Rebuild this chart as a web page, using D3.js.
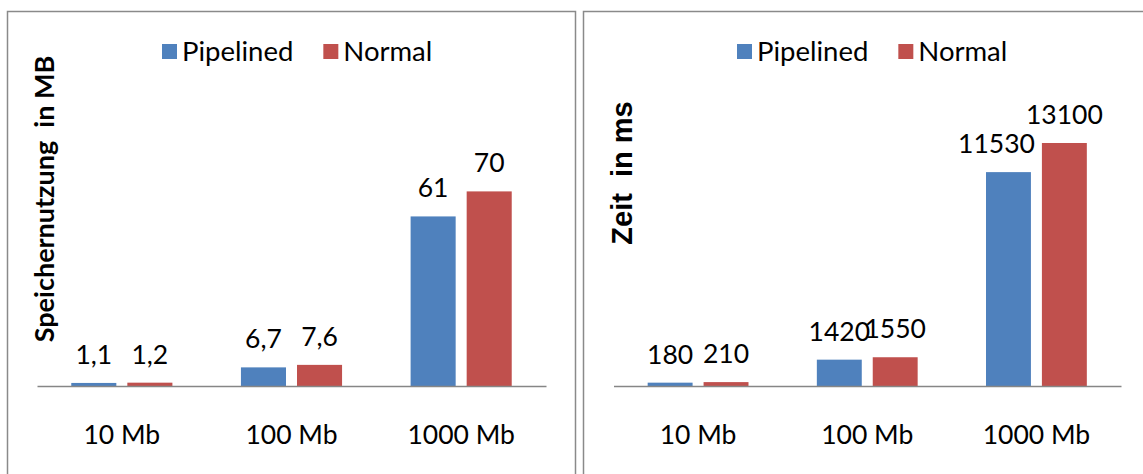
<!DOCTYPE html>
<html><head><meta charset="utf-8">
<script src="https://cdn.jsdelivr.net/npm/d3@7"></script>
<style>
html,body{margin:0;padding:0;background:#fff;}
svg{display:block;}
text{font-family:Lato,"Open Sans",sans-serif;fill:#000;}
</style></head>
<body>
<svg id="chart" width="1143" height="474"></svg>
<script>
// ---- data ----
const categories = ["10 Mb", "100 Mb", "1000 Mb"];
const seriesNames = ["Pipelined", "Normal"];
const memPipelined = [1.1, 6.7, 61];
const memNormal = [1.2, 7.6, 70];
const memLabelsPipelined = ["1,1", "6,7", "61"];
const memLabelsNormal = ["1,2", "7,6", "70"];
const timePipelined = [180, 1420, 11530];
const timeNormal = [210, 1550, 13100];
const memTitle = "Speichernutzung  in MB";
const timeTitle = "Zeit  in ms";

const colors = {Pipelined: "#4F81BD", Normal: "#C0504D"};
const svg = d3.select("#chart");

function panel(cfg) {
  const g = svg.append("g");
  // frame
  g.append("rect").attr("x", cfg.frame[0]).attr("y", cfg.frame[1])
    .attr("width", cfg.frame[2]).attr("height", cfg.frame[3])
    .attr("fill", "none").attr("stroke", "#8a8a8a").attr("stroke-width", 1.5);

  const x0 = d3.scaleBand().domain(categories).range(cfg.xRange)
    .paddingInner(0.404).paddingOuter(0.202);
  const x1 = d3.scaleBand().domain(seriesNames).range([0, x0.bandwidth()])
    .paddingInner(0.1964);
  const y = d3.scaleLinear().domain(cfg.yDomain).range(cfg.yRange);

  const rows = categories.map((c, i) => ({
    cat: c,
    vals: [
      {s: "Pipelined", v: cfg.a[i], label: cfg.la[i], next: cfg.b[i]},
      {s: "Normal", v: cfg.b[i], label: cfg.lb[i], next: null}
    ]
  }));

  const grp = g.selectAll("g.cat").data(rows).join("g")
    .attr("transform", d => `translate(${x0(d.cat)},0)`);
  grp.selectAll("rect").data(d => d.vals).join("rect")
    .attr("x", d => x1(d.s)).attr("width", x1.bandwidth())
    .attr("y", d => y(d.v)).attr("height", d => y(0) - y(d.v))
    .attr("fill", d => colors[d.s]);
  grp.selectAll("text.lbl").data(d => d.vals).join("text").attr("class", "lbl")
    .attr("x", d => x1(d.s) + x1.bandwidth() / 2)
    .attr("y", d => y(d.v) - 19)
    .attr("text-anchor", "middle").attr("font-size", 26.5)
    .text(d => d.label)
    .each(function (d) {
      // keep a label clear of the neighbouring, taller bar
      if (d.next === null) return;
      const baseline = y(d.v) - 19;
      if (y(d.next) < baseline) {
        const w = this.getComputedTextLength();
        const cx = x1(d.s) + x1.bandwidth() / 2;
        const limit = x1("Normal") - 7;
        if (cx + w / 2 > limit) d3.select(this).attr("x", limit - w / 2);
      }
    });

  // x axis
  const ax = g.append("g").attr("transform", `translate(0,${y(0)})`)
    .call(d3.axisBottom(x0).tickSize(0).tickPadding(0));
  ax.select(".domain").attr("stroke", "#868686").attr("stroke-width", 1.5);
  ax.selectAll(".tick text").attr("font-size", 26.5)
    .attr("font-family", "Lato").attr("fill", "#000")
    .attr("dy", null).attr("y", 58);

  // y title
  g.append("text")
    .attr("transform", `translate(${cfg.titlePos[0]},${cfg.titlePos[1]}) rotate(-90)`)
    .attr("text-anchor", "middle")
    .attr("font-weight", "bold").attr("font-size", cfg.titleSize)
    .style("font-family", cfg.titleFont)
    .style("white-space", "pre")
    .text(cfg.title);

  // legend
  const leg = g.append("g").attr("transform", `translate(${cfg.legend[0]},${cfg.legend[1]})`);
  let off = 0;
  seriesNames.forEach((s, i) => {
    const it = leg.append("g").attr("transform", `translate(${off},0)`);
    it.append("rect").attr("x", 0).attr("y", -7).attr("width", 15).attr("height", 15)
      .attr("fill", colors[s]);
    const t = it.append("text").attr("x", 20).attr("y", 10).attr("font-size", 27.5).text(s);
    off += 20 + t.node().getComputedTextLength() + 30;
  });
}

panel({
  frame: [7.5, 11.5, 568, 480],
  xRange: [37, 546],
  yDomain: [0, 80], yRange: [386, 163.6],
  a: memPipelined, b: memNormal, la: memLabelsPipelined, lb: memLabelsNormal,
  title: memTitle, titlePos: [54, 199], titleSize: 27, titleFont: "Lato",
  legend: [162, 51]
});
panel({
  frame: [583.5, 11.5, 600, 480],
  xRange: [613.5, 1121],
  yDomain: [0, 14000], yRange: [386, 126.3],
  a: timePipelined, b: timeNormal,
  la: timePipelined.map(String), lb: timeNormal.map(String),
  title: timeTitle, titlePos: [632, 173], titleSize: 29, titleFont: "Liberation Sans",
  legend: [737, 51]
});
</script>
</body></html>
